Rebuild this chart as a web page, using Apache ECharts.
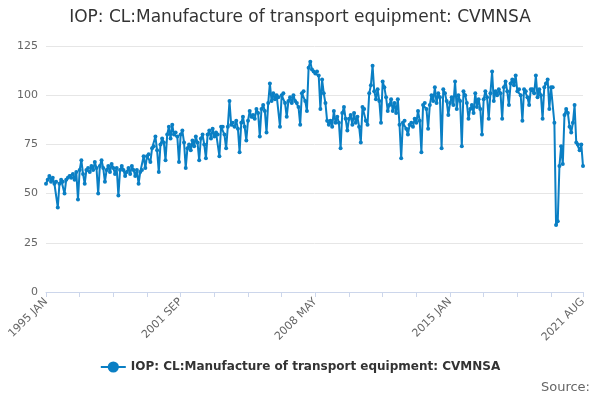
<!DOCTYPE html>
<html>
<head>
    <meta charset="UTF-8">
    <title>IOP: CL:Manufacture of transport equipment: CVMNSA</title>
    <script src="https://cdn.jsdelivr.net/npm/echarts/dist/echarts.min.js"></script>
    <style>body{margin:0;background:#fff}</style>
</head>
<body>
    <div id="main" style="width: 600px; height: 400px;"></div>
    <script type="text/javascript">
        var monthNames = ['JAN', 'FEB', 'MAR', 'APR', 'MAY', 'JUN', 'JUL', 'AUG', 'SEP', 'OCT', 'NOV', 'DEC'];
        var startYear = 1995;
        // monthly values, one row per year (2021 ends in August)
        var values = [
            55, 57, 59, 56, 58, 55, 56, 43, 55, 57, 56, 50,
            57, 58, 59, 58, 60, 57, 61, 47, 62, 67, 60, 55,
            62, 63, 61, 64, 62, 66, 63, 50, 64, 67, 63, 56,
            62, 64, 61, 65, 63, 60, 63, 49, 62, 64, 62, 59,
            61, 63, 60, 64, 62, 59, 62, 55, 61, 62, 69, 63,
            69, 70, 66, 73, 74, 79, 72, 61, 75, 78, 76, 67,
            80, 84, 78, 85, 80, 81, 79, 66, 80, 82, 76, 63,
            73, 75, 72, 77, 74, 79, 76, 67, 78, 80, 75, 68,
            80, 82, 78, 83, 79, 81, 80, 69, 84, 84, 80, 73,
            84, 97, 85, 86, 84, 87, 83, 71, 86, 89, 84, 77,
            87, 92, 89, 90, 88, 93, 91, 79, 93, 95, 92, 81,
            96, 106, 97, 101, 98, 100, 99, 84, 100, 101, 96, 89,
            97, 99, 96, 100, 97, 96, 94, 85, 101, 102, 97, 92,
            114, 117, 113, 112, 111, 112, 110, 93, 108, 101, 96, 87,
            85, 87, 84, 92, 86, 89, 86, 73, 91, 94, 88, 82,
            88, 90, 85, 91, 86, 89, 84, 76, 94, 93, 87, 85,
            101, 105, 115, 102, 98, 103, 97, 86, 107, 104, 99, 92,
            95, 98, 92, 96, 91, 98, 85, 68, 86, 87, 83, 80,
            85, 86, 84, 88, 86, 92, 87, 71, 95, 96, 93, 83,
            95, 100, 97, 104, 96, 101, 99, 73, 103, 101, 97, 90,
            96, 99, 95, 107, 93, 100, 97, 74, 102, 100, 96, 88,
            93, 95, 91, 101, 94, 98, 93, 80, 98, 102, 99, 88,
            101, 112, 97, 102, 100, 103, 101, 88, 104, 107, 102, 95,
            106, 108, 105, 110, 102, 103, 100, 87, 103, 102, 99, 95,
            103, 103, 101, 110, 99, 103, 100, 88, 104, 106, 108, 93,
            104, 104, 86, 34, 36, 64, 74, 65, 90, 93, 91, 84,
            81, 86, 95, 76, 75, 72, 75, 64
        ];
        var categories = [];
        for (var i = 0; i < values.length; i++) {
            categories.push((startYear + Math.floor(i / 12)) + ' ' + monthNames[i % 12]);
        }
        var lastIndex = values.length - 1;

        var myChart = echarts.init(document.getElementById('main'));
        var option = {
            title: {
                text: 'IOP: CL:Manufacture of transport equipment: CVMNSA',
                left: 'center',
                top: 4,
                textStyle: { color: '#333', fontSize: 17, fontWeight: 'normal', fontFamily: 'DejaVu Sans' }
            },
            legend: {
                bottom: 22,
                left: 'center',
                data: ['IOP: CL:Manufacture of transport equipment: CVMNSA'],
                textStyle: { color: '#333', fontSize: 12, fontWeight: 'bold', fontFamily: 'DejaVu Sans' }
            },
            graphic: [{
                type: 'text', right: 10, bottom: 6,
                style: { text: 'Source:', fill: '#666', font: '13px DejaVu Sans' }
            }],
            grid: { left: 46, right: 17, top: 46, bottom: 108 },
            xAxis: {
                type: 'category',
                boundaryGap: false,
                data: categories,
                axisLine: { lineStyle: { color: '#ccd6eb' } },
                axisTick: {
                    lineStyle: { color: '#ccd6eb' },
                    interval: function (i) { return i % 20 === 0 || i === lastIndex; }
                },
                axisLabel: {
                    color: '#666', fontSize: 11, rotate: 45, fontFamily: 'DejaVu Sans',
                    interval: function (i) { return i % 80 === 0 || i === lastIndex; }
                }
            },
            yAxis: {
                type: 'value', min: 0, max: 125, interval: 25,
                axisLabel: { color: '#666', fontSize: 11, fontFamily: 'DejaVu Sans' },
                splitLine: { lineStyle: { color: '#e6e6e6' } }
            },
            series: [{
                name: 'IOP: CL:Manufacture of transport equipment: CVMNSA',
                type: 'line',
                data: values,
                symbol: 'circle',
                symbolSize: 4,
                showAllSymbol: true,
                lineStyle: { color: '#0a7fc4', width: 2 },
                itemStyle: { color: '#0a7fc4' }
            }]
        };
        myChart.setOption(option);
    </script>
</body>
</html>
